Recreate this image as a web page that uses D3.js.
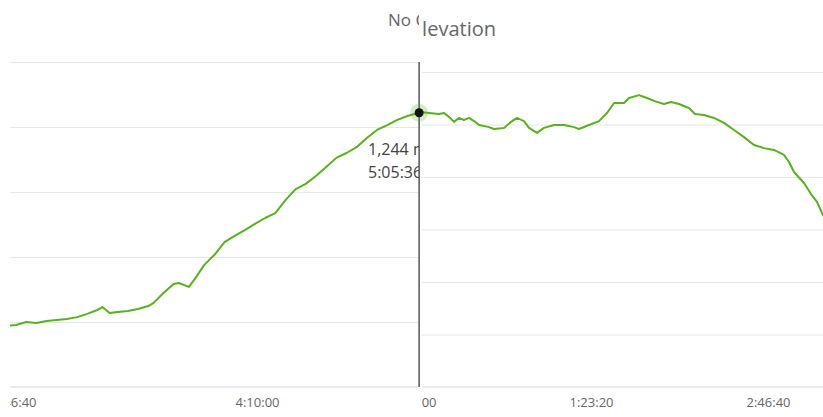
<!DOCTYPE html>
<html>
<head>
<meta charset="utf-8">
<script src="https://cdn.jsdelivr.net/npm/d3@7"></script>
<style>
  body { margin: 0; background: #fff; }
  svg { display: block; font-family: "Open Sans", sans-serif; }
</style>
</head>
<body>
<svg id="chart"></svg>
<script>
// left chart (the one under the hover): time in seconds, elevation in metres
var leftTimes = [9833, 10042, 10251, 10460, 10669, 10879, 11088, 11297, 11506, 11715, 11820, 11967,
  12134, 12343, 12552, 12762, 12866, 13075, 13285, 13389, 13598, 13703, 13912, 14121, 14331, 14540,
  14749, 14958, 15167, 15377, 15586, 15795, 16004, 16213, 16423, 16632, 16841, 17050, 17259, 17469,
  17678, 17887, 18096, 18243, 18336];
var leftElev = [588, 591, 600, 597, 603, 606, 609, 615, 625, 637, 646, 628,
  631, 634, 640, 649, 658, 689, 717, 720, 708, 729, 775, 806, 846, 865,
  883, 902, 920, 935, 975, 1009, 1025, 1049, 1077, 1105, 1120, 1138, 1166, 1191,
  1206, 1222, 1234, 1240, 1244];
var leftTicksX = [10000, 15000];
var leftTicksY = [600, 800, 1000, 1200, 1400];

// right chart
var rightTimes = [113, 424, 706, 847, 989, 1130, 1271, 1412, 1554, 1695, 1836, 2119, 2260, 2542,
  2740, 2910, 3107, 3249, 3475, 3672, 3955, 4237, 4520, 4661, 4944, 5226, 5452, 5650, 5932, 6073,
  6356, 6582, 6780, 7062, 7260, 7486, 7768, 7938, 8192, 8475, 8757, 9040, 9322, 9605, 9887, 10169,
  10452, 10593, 10734, 11017, 11215, 11384, 11525, 11723];
var rightElev = [1248, 1244, 1240, 1244, 1229, 1210, 1225, 1217, 1225, 1213, 1198, 1190, 1183, 1187,
  1210, 1225, 1213, 1187, 1168, 1187, 1198, 1198, 1190, 1183, 1198, 1213, 1244, 1282, 1282, 1301,
  1312, 1301, 1290, 1278, 1286, 1278, 1263, 1240, 1236, 1225, 1206, 1179, 1152, 1122, 1110, 1103,
  1084, 1057, 1019, 977, 935, 905, 863, 817];
var rightTicksX = [0, 5000, 10000];
var rightTicksY = [400, 600, 800, 1000, 1200, 1400];

var leftTitle = "No Chart";
var rightTitle = "Elevation";
var hoverTime = 18336;
var hoverElev = 1244;

var width = 823, height = 417;
var green = "#58b11e";

var svg = d3.select("#chart").attr("width", width).attr("height", height);

function fmtTime(s) {
  var h = Math.floor(s / 3600), m = Math.floor(s % 3600 / 60), sec = Math.round(s % 60);
  return h + ":" + d3.format("02")(m) + ":" + d3.format("02")(sec);
}

var defs = svg.append("defs");
defs.append("clipPath").attr("id", "clipL")
  .append("rect").attr("x", 10).attr("y", 0).attr("width", 409).attr("height", height);
defs.append("clipPath").attr("id", "clipR")
  .append("rect").attr("x", 422).attr("y", 0).attr("width", width - 422).attr("height", height);

function drawPanel(opts) {
  var g = svg.append("g").attr("clip-path", "url(#" + opts.clip + ")");

  g.append("text")
      .attr("x", opts.titleX)
      .attr("y", opts.titleY)
      .attr("font-size", opts.titleSize)
      .attr("fill", "#666")
      .text(opts.title);

  var grid = d3.axisLeft(opts.y)
               .tickValues(opts.ticksY)
               .tickSize(-(opts.x1 - opts.x0))
               .tickFormat("");
  g.append("g")
      .attr("transform", "translate(" + opts.x0 + ",0)")
      .call(grid)
      .call(a => a.select(".domain").remove())
      .selectAll("line").attr("stroke", "#e6e6e6");

  var xAxis = d3.axisBottom(opts.x)
                .tickValues(opts.ticksX)
                .tickSize(0)
                .tickPadding(11)
                .tickFormat(fmtTime);
  var ax = g.append("g")
      .attr("transform", "translate(0," + opts.y.range()[0] + ")")
      .call(xAxis);
  ax.select(".domain").remove();
  ax.append("line")
      .attr("x1", opts.x0).attr("x2", opts.x1)
      .attr("stroke", "#ccd6eb");
  ax.selectAll("text").attr("font-size", "13px").attr("fill", "#666")
      .attr("font-family", "Open Sans, sans-serif");

  var line = d3.line()
               .x(d => opts.x(d.t))
               .y(d => opts.y(d.e));
  g.append("path")
      .datum(opts.data)
      .attr("fill", "none")
      .attr("stroke", green)
      .attr("stroke-width", 2)
      .attr("stroke-linejoin", "round")
      .attr("d", line);
  return g;
}

var xL = d3.scaleLinear().domain([10000, 15000]).range([14, 257]);
var yL = d3.scaleLinear().domain([400, 1400]).range([387, 62]);
var xR = d3.scaleLinear().domain([0, 5000]).range([414, 591]);
var yR = d3.scaleLinear().domain([200, 1400]).range([387, 72]);

var leftData = leftTimes.map((t, i) => ({ t: t, e: leftElev[i] }));
var rightData = rightTimes.map((t, i) => ({ t: t, e: rightElev[i] }));

drawPanel({
  clip: "clipR", x: xR, y: yR, x0: 422, x1: width,
  ticksX: rightTicksX, ticksY: rightTicksY, data: rightData,
  title: rightTitle, titleX: 411, titleY: 36, titleSize: "20px"
});

var gL = drawPanel({
  clip: "clipL", x: xL, y: yL, x0: 10, x1: 418,
  ticksX: leftTicksX, ticksY: leftTicksY, data: leftData,
  title: leftTitle, titleX: 388, titleY: 26, titleSize: "17px"
});

// hover tooltip text (clipped with left panel)
gL.append("text")
    .attr("x", 368).attr("y", 155)
    .attr("font-size", "16px").attr("fill", "#444")
    .text(d3.format(",")(hoverElev) + " m");
gL.append("text")
    .attr("x", 368).attr("y", 178)
    .attr("font-size", "16px").attr("fill", "#444")
    .text(fmtTime(hoverTime));

// crosshair and marker
var hx = xL(hoverTime), hy = yL(hoverElev);
svg.append("line")
    .attr("x1", hx).attr("x2", hx)
    .attr("y1", yL.range()[1]).attr("y2", yL.range()[0])
    .attr("stroke", "#555").attr("stroke-width", 1.5);
svg.append("circle")
    .attr("cx", hx).attr("cy", hy).attr("r", 9)
    .attr("fill", green).attr("fill-opacity", 0.25);
svg.append("circle")
    .attr("cx", hx).attr("cy", hy).attr("r", 4.5)
    .attr("fill", "#111");
</script>
</body>
</html>
